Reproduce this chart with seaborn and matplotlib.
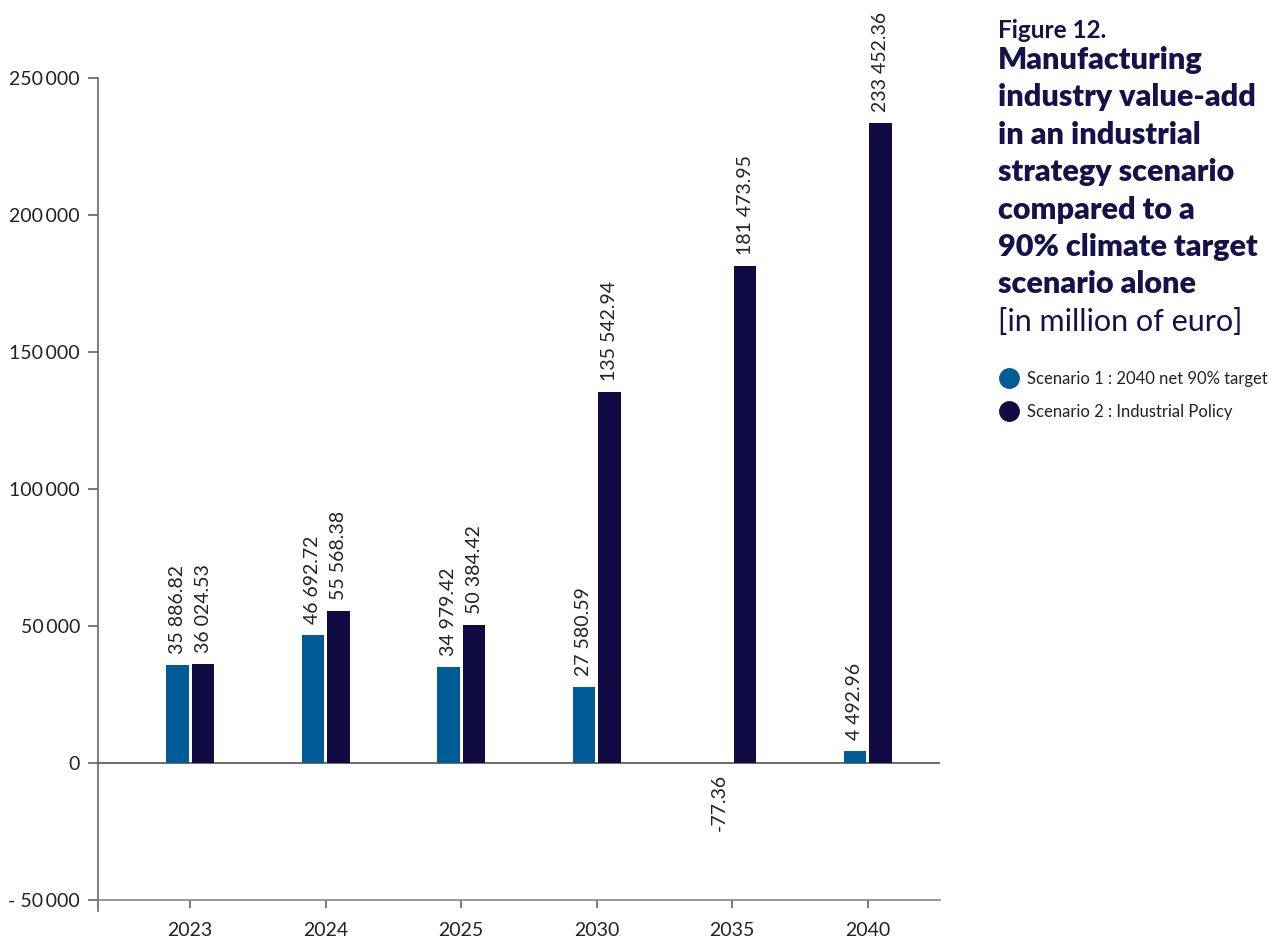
import matplotlib
matplotlib.use("Agg")
import matplotlib.pyplot as plt
from matplotlib.lines import Line2D
import seaborn as sns
import pandas as pd

years = ["2023", "2024", "2025", "2030", "2035", "2040"]
scenarios = ["Scenario 1 : 2040 net 90% target", "Scenario 2 : Industrial Policy"]
scenario1 = [35886.82, 46692.72, 34979.42, 27580.59, -77.36, 4492.96]
scenario2 = [36024.53, 55568.38, 50384.42, 135542.94, 181473.95, 233452.36]
colors = ["#005B96", "#100C43"]
title_color = "#14124A"
yticks = [-50000, 0, 50000, 100000, 150000, 200000, 250000]

df = pd.DataFrame({
    "year": years * 2,
    "scenario": [scenarios[0]] * len(years) + [scenarios[1]] * len(years),
    "value": scenario1 + scenario2,
})

sns.set_theme(style="white")
plt.rcParams["font.family"] = ["Lato", "DejaVu Sans"]

fig = plt.figure(figsize=(12.75, 9.38), dpi=100)
ax = fig.add_axes([0.0769, 0.0405, 0.66, 0.8763])

sns.barplot(data=df, x="year", y="value", hue="scenario", hue_order=scenarios,
            palette=colors, width=0.38, gap=0.13, saturation=1, legend=False,
            linewidth=0, ax=ax, errorbar=None)

def fmt_value(v):
    return f"{v:,.2f}".replace(",", " ")

for cont in ax.containers:
    ax.bar_label(cont, labels=[fmt_value(b.get_height()) for b in cont],
                 rotation=90, padding=8, fontsize=14, color="#222222")

ax.set_ylim(-50000, 250000)
ax.set_xlim(-0.68, 5.53)
ax.set_yticks(yticks)
ax.set_yticklabels([("- " if t < 0 else "") + f"{abs(t):,}".replace(",", "\u2009") for t in yticks])
ax.set_xlabel("")
ax.set_ylabel("")

for side in ["top", "right"]:
    ax.spines[side].set_visible(False)
ax.spines["left"].set_color("#666666")
ax.spines["left"].set_linewidth(1.2)
ax.spines["left"].set_bounds(-54000, 250000)
ax.spines["bottom"].set_color("#888888")
ax.spines["bottom"].set_linewidth(1.2)
ax.axhline(0, color="#444444", linewidth=1.1, zorder=0.5)

ax.tick_params(axis="y", which="both", left=True, length=7, width=1.1, color="#555555",
               labelsize=14, labelcolor="#222222", pad=6)
ax.tick_params(axis="x", which="both", bottom=True, length=6, width=1.1, color="#555555",
               labelsize=14, labelcolor="#222222", pad=10)

# Title block on the right
tx = 0.783
fig.text(tx, 1 - 30 / 938, "Figure 12.", fontsize=17.5, fontweight="bold",
         color=title_color, va="center")
title_lines = ["Manufacturing", "industry value-add", "in an industrial",
               "strategy scenario", "compared to a", "90% climate target",
               "scenario alone"]
y0 = 1 - 60 / 938
step = 37.4 / 938
for i, line in enumerate(title_lines):
    fig.text(tx, y0 - i * step, line, fontsize=22, fontweight="heavy",
             color=title_color, va="center")
fig.text(tx, y0 - len(title_lines) * step, "[in million of euro]", fontsize=22,
         color=title_color, va="center")

handles = [Line2D([0], [0], marker="o", linestyle="", markersize=14,
                  markerfacecolor=c, markeredgecolor=c) for c in colors]
fig.legend(handles, scenarios, loc="upper left", bbox_to_anchor=(0.778, 1 - 364 / 938),
           frameon=False, fontsize=12, handletextpad=0.5, labelspacing=1.05,
           borderaxespad=0, handlelength=1.2, labelcolor="#222222")

fig.savefig("out.png", dpi=100, facecolor="white")
